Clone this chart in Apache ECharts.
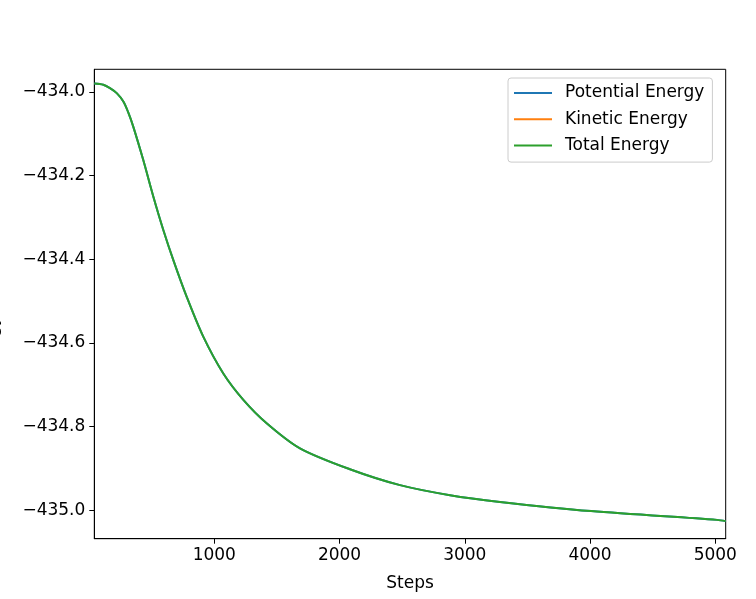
<!DOCTYPE html>
<html>
<head>
<meta charset="utf-8">
<script src="https://cdn.jsdelivr.net/npm/echarts@6/dist/echarts.min.js"></script>
<style>html,body{margin:0;padding:0;background:#fff;}#c{width:756px;height:599px;}</style>
</head>
<body>
<div id="c"></div>
<script>
// Data
const steps = [42, 114, 167, 221, 274, 313, 353, 433, 513, 593, 673, 780, 912, 1072, 1232, 1418, 1684, 2083, 2483, 2882, 3281, 4008, 5014, 5083];
const totalEnergy = [-433.980, -433.983, -433.991, -434.003, -434.023, -434.049, -434.083, -434.163, -434.250, -434.330, -434.402, -434.490, -434.585, -434.673, -434.736, -434.792, -434.852, -434.902, -434.940, -434.964, -434.980, -435.002, -435.023, -435.026];
// Potential energy coincides with total energy (hidden under the green line)
const potentialEnergy = [-433.980, -433.983, -433.991, -434.003, -434.023, -434.049, -434.083, -434.163, -434.250, -434.330, -434.402, -434.490, -434.585, -434.673, -434.736, -434.792, -434.852, -434.902, -434.940, -434.964, -434.980, -435.002, -435.023, -435.026];
// Kinetic energy is not visible inside the plotted range
const kineticEnergy = [];
const xTicks = [1000, 2000, 3000, 4000, 5000];
const yTicks = [-435.0, -434.8, -434.6, -434.4, -434.2, -434.0];
const seriesNames = ['Potential Energy', 'Kinetic Energy', 'Total Energy'];

const pairs = (xs, ys) => ys.map((y, i) => [xs[i], y]);
const font = 'DejaVu Sans';
const fs = 17;
const chart = echarts.init(document.getElementById('c'));
chart.setOption({
  animation: false,
  backgroundColor: '#fff',
  grid: {left: 94.3, right: 30.3, top: 69.3, bottom: 60.3, outerBoundsMode: 'none', containLabel: false,
         show: true, borderColor: '#000', borderWidth: 1, backgroundColor: 'transparent'},
  xAxis: {
    type: 'value', min: 42, max: 5083,
    name: 'Steps', nameLocation: 'middle', nameGap: 36,
    nameTextStyle: {fontFamily: font, fontSize: fs, color: '#000'},
    axisLine: {show: true, lineStyle: {color: '#000', width: 1}},
    axisTick: {show: true, length: 5, lineStyle: {color: '#000', width: 1}, customValues: xTicks},
    axisLabel: {fontFamily: font, fontSize: fs, color: '#000', margin: 8, customValues: xTicks, formatter: v => String(v)},
    splitLine: {show: false}
  },
  yAxis: {
    type: 'value', min: -435.068, max: -433.946,
    name: 'Energy (Hartree)', nameLocation: 'middle', nameRotate: 90, nameGap: 93,
    nameTextStyle: {fontFamily: font, fontSize: fs, color: '#000'},
    axisLine: {show: true, lineStyle: {color: '#000', width: 1}},
    axisTick: {show: true, length: 5, lineStyle: {color: '#000', width: 1}, customValues: yTicks},
    axisLabel: {fontFamily: font, fontSize: fs, color: '#000', margin: 9, customValues: yTicks, formatter: v => v.toFixed(1).replace('-', '\u2212')},
    splitLine: {show: false}
  },
  legend: {
    orient: 'vertical', left: 508, top: 78,
    data: seriesNames,
    itemWidth: 38, itemHeight: 17, itemGap: 9.3,
    padding: [6.5, 8, 8, 5],
    itemStyle: {opacity: 0},
    backgroundColor: 'rgba(255,255,255,0.8)', borderColor: '#cccccc', borderWidth: 1, borderRadius: 3,
    textStyle: {fontFamily: font, fontSize: fs, color: '#000', padding: [0, 0, 0, 8]}
  },
  series: [
    {name: seriesNames[0], type: 'line', data: pairs(steps, potentialEnergy), symbol: 'none', smooth: 0.3, lineStyle: {color: '#1f77b4', width: 2}, itemStyle: {color: '#1f77b4'}},
    {name: seriesNames[1], type: 'line', data: pairs(steps, kineticEnergy), symbol: 'none', smooth: 0.3, lineStyle: {color: '#ff7f0e', width: 2}, itemStyle: {color: '#ff7f0e'}},
    {name: seriesNames[2], type: 'line', data: pairs(steps, totalEnergy), symbol: 'none', smooth: 0.3, lineStyle: {color: '#2ca02c', width: 2}, itemStyle: {color: '#2ca02c'}}
  ]
});
</script>
</body>
</html>
